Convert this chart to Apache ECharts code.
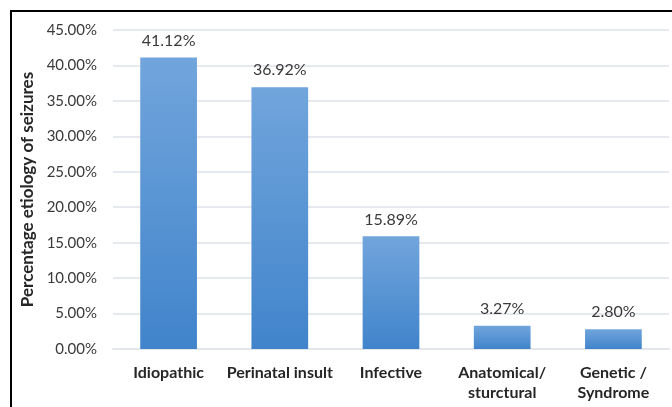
<!DOCTYPE html>
<html>
<head>
<meta charset="utf-8">
<script src="https://cdn.jsdelivr.net/npm/echarts@6/dist/echarts.min.js"></script>
<style>
  html, body { margin: 0; padding: 0; background: #fff; }
  #chart { width: 672px; height: 407px; }
</style>
</head>
<body>
<div id="chart"></div>
<script>
// Etiology categories and their share of seizures (%)
const categories = ['Idiopathic', 'Perinatal insult', 'Infective', 'Anatomical/\nsturctural', 'Genetic /\nSyndrome'];
const percentages = [41.12, 36.92, 15.89, 3.27, 2.80];
const yTicks = { min: 0, max: 45, step: 5 };

const font = 'Lato, "Open Sans", sans-serif';
const chart = echarts.init(document.getElementById('chart'));

chart.setOption({
  animation: false,
  backgroundColor: '#ffffff',
  grid: { left: 113, right: 3, top: 30, bottom: 58 },
  graphic: [
    // frame along the top and left edges
    { type: 'line', shape: { x1: 10, y1: 11, x2: 672, y2: 11 }, style: { stroke: '#000', lineWidth: 2 } },
    { type: 'line', shape: { x1: 11, y1: 10, x2: 11, y2: 407 }, style: { stroke: '#000', lineWidth: 2 } }
  ],
  xAxis: {
    type: 'category',
    data: categories,
    axisLine: { lineStyle: { color: '#e3e7ec', width: 2 } },
    axisTick: { show: false },
    axisLabel: {
      color: '#262626', fontFamily: font, fontWeight: 'bold', fontSize: 16,
      margin: 14, lineHeight: 20, interval: 0
    }
  },
  yAxis: {
    type: 'value',
    min: yTicks.min, max: yTicks.max, interval: yTicks.step,
    name: 'Percentage etiology of seizures',
    nameLocation: 'middle',
    nameGap: 76,
    nameTextStyle: { color: '#262626', fontFamily: font, fontWeight: 'bold', fontSize: 17 },
    axisLine: { show: false },
    axisTick: { show: false },
    splitLine: { lineStyle: { color: '#e6eaef', width: 2 } },
    axisLabel: {
      color: '#3a3a3a', fontFamily: font, fontSize: 15, margin: 16,
      formatter: v => v.toFixed(2) + '%'
    }
  },
  series: [{
    type: 'bar',
    data: percentages,
    barWidth: '51%',
    itemStyle: {
      color: new echarts.graphic.LinearGradient(0, 0, 0, 1, [
        { offset: 0, color: '#71a5dc' },
        { offset: 1, color: '#4184cb' }
      ])
    },
    label: {
      show: true, position: 'top', distance: 9,
      color: '#3a3a3a', fontFamily: font, fontSize: 16,
      formatter: p => p.value.toFixed(2) + '%'
    }
  }]
});
</script>
</body>
</html>
